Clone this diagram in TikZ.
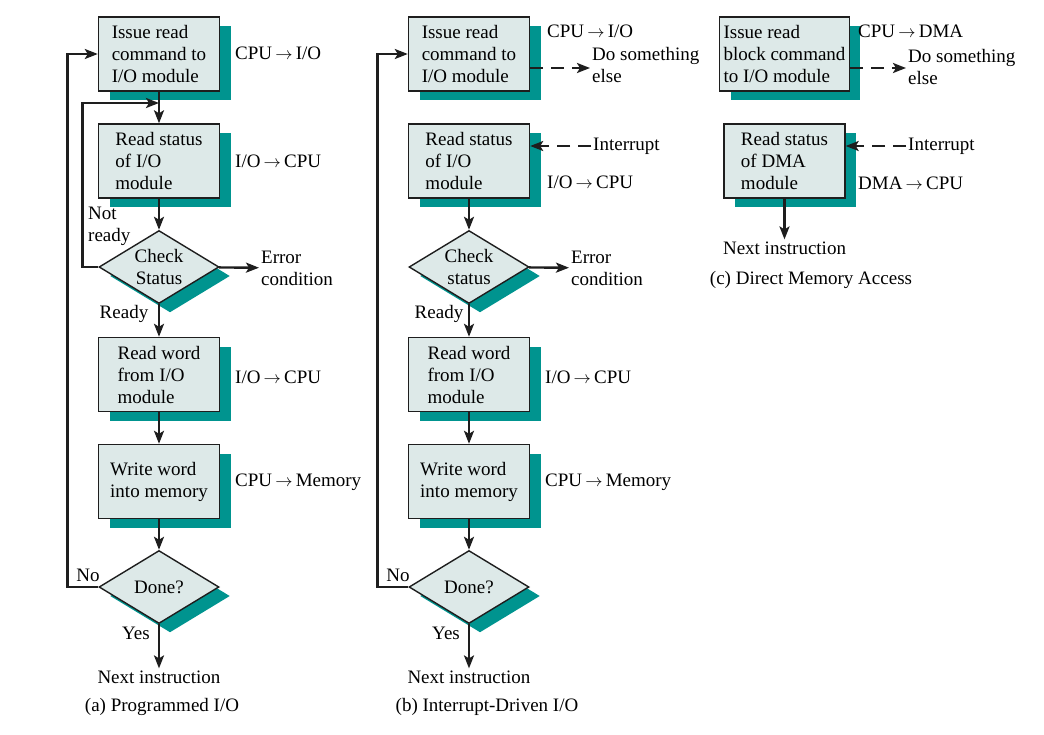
\documentclass[tikz,border=0pt]{standalone}
\usepackage{fontspec}
\setmainfont{Liberation Serif}
\usetikzlibrary{%
  arrows.meta,%
  calc,%
  shapes.geometric,%
  shadows%
}
\definecolor{boxfill}{RGB}{221,233,232}
\definecolor{shadowteal}{RGB}{0,148,143}
\definecolor{linegray}{RGB}{30,30,30}
\tikzset{>={Stealth[length=13pt,width=10pt,inset=3pt]}}
\tikzset{
  tealshadow/.style={drop shadow={shadow xshift=11pt,shadow yshift=-9pt,
      fill=shadowteal,opacity=1}},
  stepbox/.style={draw=linegray,line width=1.4pt,fill=boxfill,
    minimum width=121pt,minimum height=74pt,inner sep=4pt,align=left,tealshadow},
  testbox/.style={diamond,draw=linegray,line width=1.4pt,fill=boxfill,
    minimum width=120pt,minimum height=73pt,inner sep=0pt,tealshadow},
  flow/.style={->,line width=2.4pt,draw=linegray},
  dflow/.style={flow,dash pattern=on 13pt off 8pt},
  note/.style={inner sep=2pt,align=left}
}
\newcommand{\xto}{\,$\rightarrow$\,}

\begin{document}
\begin{tikzpicture}[x=1pt,y=-1pt,font=\fontsize{19}{22}\selectfont]
        \useasboundingbox (0,0) rectangle (1044,734);
        % (a)
        \node[stepbox] (ia) at (159,54) {Issue read\\command to\\I/O module};
        \node[stepbox] (sa) at (159,161) {Read status\\of I/O\\module};
        \node[testbox,label={[align=center]center:Check\\Status}] (ca) at (159,267) {};
        \node[stepbox] (ra) at (159,374.5) {Read word\\from I/O\\module};
        \node[stepbox] (wa) at (159,481.5) {Write word\\into memory};
        \node[testbox,label=center:Done?] (da) at (159,587) {};
        \node[note] (na) at (159,677) {Next instruction};
        \node[note] (capa) at (162,707) {(a) Programmed I/O};
        \node[note,anchor=west] (ea) at (259,268) {Error\\condition};
        \node[note,anchor=west] (nra) at (86,226) {Not\\ready};
        \node[note] (rya) at (124,314) {Ready};
        \node[note] (noa) at (88,575) {No};
        \node[note] (yea) at (136,633) {Yes};
        \node[note,anchor=west] (ta1) at (233,53) {CPU\xto I/O};
        \node[note,anchor=west] (ta2) at (233,161) {I/O\xto CPU};
        \node[note,anchor=west] (ta3) at (233,377) {I/O\xto CPU};
        \node[note,anchor=west] (ta4) at (233,482) {CPU\xto Memory};
        \coordinate (ja) at (159,103);
        \draw[flow] (ia) -- (sa);
        \draw[flow] (sa) -- (ca);
        \draw[flow] (ca) -- (ra);
        \draw[flow] (ra) -- (wa);
        \draw[flow] (wa) -- (da);
        \draw[flow] (da) -- (na);
        \draw[flow] (ca) -- (ea);
        \draw[flow] (ca.west) -- ++(-16,0) |- (ja);
        \draw[flow] (da.west) -- ++(-31,0) |- (ia.west);
        % (b)
        \node[stepbox] (ib) at (469,54) {Issue read\\command to\\I/O module};
        \node[stepbox] (sb) at (469,161) {Read status\\of I/O\\module};
        \node[testbox,label={[align=center]center:Check\\status}] (cb) at (469,267) {};
        \node[stepbox] (rb) at (469,374.5) {Read word\\from I/O\\module};
        \node[stepbox] (wb) at (469,481.5) {Write word\\into memory};
        \node[testbox,label=center:Done?] (db) at (469,587) {};
        \node[note] (nb) at (469,677) {Next instruction};
        \node[note] (capb) at (487,707) {(b) Interrupt-Driven I/O};
        \node[note,anchor=west] (eb) at (569,268) {Error\\condition};
        \node[note] (ryb) at (439,314) {Ready};
        \node[note] (nob) at (398,575) {No};
        \node[note] (yeb) at (446,633) {Yes};
        \node[note,anchor=west] (dsb) at (590,65) {Do something\\else};
        \node[note,anchor=west] (itb) at (591,146) {Interrupt};
        \node[note,anchor=west] (tb1) at (545,31) {CPU\xto I/O};
        \node[note,anchor=west] (tb2) at (545,182) {I/O\xto CPU};
        \node[note,anchor=west] (tb3) at (543,377) {I/O\xto CPU};
        \node[note,anchor=west] (tb4) at (543,482) {CPU\xto Memory};
        \draw[flow] (sb) -- (cb);
        \draw[flow] (cb) -- (rb);
        \draw[flow] (rb) -- (wb);
        \draw[flow] (wb) -- (db);
        \draw[flow] (db) -- (nb);
        \draw[flow] (cb) -- (eb);
        \draw[flow] (db.west) -- ++(-31,0) |- (ib.west);
        \draw[dflow] ([yshift=-14pt]ib.east) -- ([yshift=-14pt]ib.east -| dsb.west);
        \draw[dflow] (itb.west) -- (itb.west -| sb.east);
        % (c)
        \node[stepbox] (ic) at (784.5,54) {Issue read\\block command\\to I/O module};
        \node[stepbox] (sc) at (784.5,161) {Read status\\of DMA\\module};
        \node[note] (nc) at (784.5,248) {Next instruction};
        \node[note] (capc) at (811,280) {(c) Direct Memory Access};
        \node[note,anchor=west] (dsc) at (906,67) {Do something\\else};
        \node[note,anchor=west] (itc) at (906,146) {Interrupt};
        \node[note,anchor=west] (tc1) at (856,31) {CPU\xto DMA};
        \node[note,anchor=west] (tc2) at (856,183) {DMA\xto CPU};
        \draw[flow] (sc) -- (nc);
        \draw[dflow] ([yshift=-14pt]ic.east) -- ([yshift=-14pt]ic.east -| dsc.west);
        \draw[dflow] (itc.west) -- (itc.west -| sc.east);
      \end{tikzpicture}
\end{document}
